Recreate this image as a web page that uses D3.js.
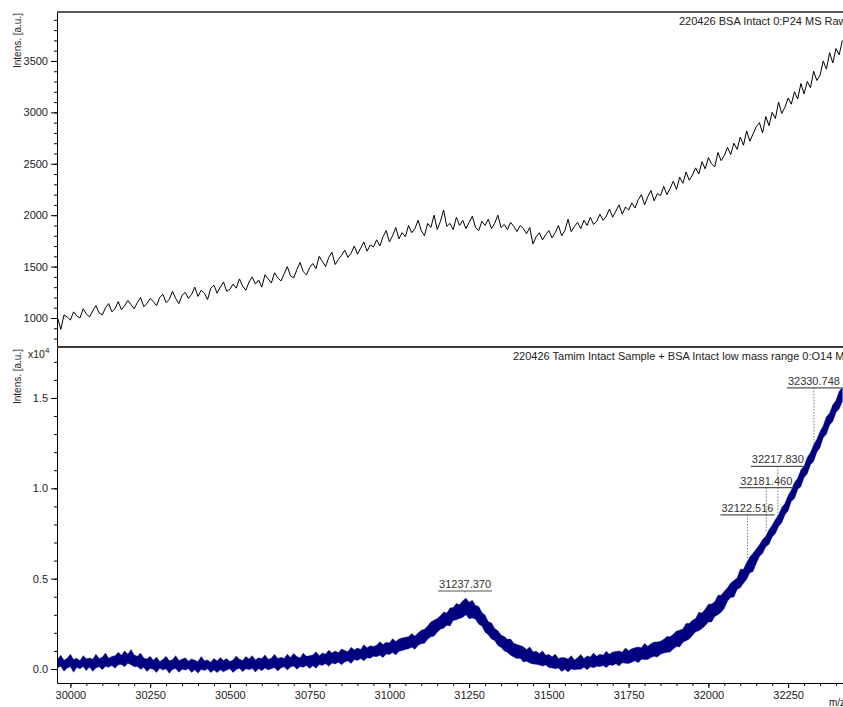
<!DOCTYPE html>
<html>
<head>
<meta charset="utf-8">
<script src="https://cdn.jsdelivr.net/npm/d3@7"></script>
<style>
  body { margin: 0; background: #fff; }
  svg { display: block; font-family: "Liberation Sans", Arial, sans-serif; }
</style>
</head>
<body>
<svg id="chart" width="843" height="707"></svg>
<script>
// ---- data ----
// both traces sampled every 10 m/z from 29960
const mzStart = 29960;
const mzStep = 10;

// top trace: 220426 BSA Intact (intensity, a.u.)
const topIntensity = [
  1000,890,1030,1010,980,1060,1020,1000,1090,1040,
  1010,1070,1120,1050,1030,1100,1140,1060,1090,1160,
  1080,1120,1170,1130,1090,1150,1200,1110,1140,1190,
  1160,1120,1200,1230,1150,1180,1260,1190,1140,1220,
  1250,1190,1230,1300,1210,1270,1240,1180,1290,1320,
  1240,1300,1350,1260,1280,1330,1290,1380,1310,1270,
  1350,1400,1330,1370,1300,1420,1380,1340,1440,1390,
  1360,1430,1500,1410,1390,1470,1540,1450,1420,1490,
  1530,1480,1600,1550,1500,1590,1640,1520,1570,1610,
  1660,1590,1630,1700,1620,1680,1740,1650,1710,1690,
  1760,1700,1790,1850,1740,1800,1880,1770,1830,1790,
  1900,1830,1870,1950,1850,1800,1920,1880,2000,1860,
  1940,2050,1890,1920,1860,1980,1900,1950,1870,1930,
  1990,1880,1850,1940,1900,1960,1870,1920,2000,1880,
  1910,1860,1930,1890,1840,1900,1870,1820,1880,1720,
  1790,1830,1760,1810,1850,1780,1830,1900,1800,1850,
  1960,1840,1890,1930,1870,1950,1900,1980,1910,1940,
  2010,1950,1990,2060,1980,2040,2100,2010,2080,2050,
  2120,2070,2150,2200,2100,2180,2240,2140,2210,2190,
  2280,2200,2260,2330,2250,2370,2310,2420,2340,2390,
  2460,2400,2520,2450,2560,2500,2470,2610,2530,2580,
  2660,2590,2700,2640,2760,2680,2820,2720,2790,2860,
  2900,2800,2960,2870,3000,2940,3100,2990,3050,3140,
  3080,3200,3130,3280,3180,3300,3240,3400,3310,3360,
  3500,3420,3580,3480,3620,3560,3700
];

// bottom trace: 220426 Tamim Intact Sample + BSA, upper and lower edge of the noise band
const bottomHigh = [
  550,760,480,600,820,520,590,460,740,570,
  610,540,820,580,650,880,600,690,740,920,
  760,1000,820,1080,780,700,880,610,560,700,
  480,660,420,530,700,450,510,740,470,540,
  620,430,560,480,410,690,460,500,380,580,
  440,630,470,580,420,500,720,540,470,690,
  560,740,500,620,570,780,540,600,810,580,
  650,580,820,640,860,690,610,880,700,740,
  780,950,740,890,820,1040,880,990,900,1110,
  1020,960,1200,1050,1160,1080,1340,1170,1280,1250,
  1320,1510,1350,1480,1440,1680,1520,1660,1720,1760,
  1780,1960,1820,1990,2150,2200,2380,2600,2700,2800,
  2950,3150,3100,3380,3400,3620,3560,3780,3920,3700,
  3800,3520,3460,3120,2980,2620,2560,2240,2120,1880,
  1800,1640,1660,1420,1360,1300,1230,1080,1220,960,
  980,860,1000,760,800,680,820,580,640,620,
  560,740,500,620,800,580,720,660,880,700,
  820,760,980,820,940,970,990,930,1160,1010,
  1120,1180,1220,1170,1410,1260,1400,1490,1500,1540,
  1640,1800,1780,1920,2100,2140,2220,2520,2520,2700,
  2800,3140,3100,3300,3580,3600,3720,4080,4080,4300,
  4500,4760,4900,5040,5520,5520,5900,6200,6400,6640,
  6880,7160,7360,7700,7960,8280,8540,8940,9160,9600,
  9900,10320,10560,11020,11240,11700,11980,12400,12720,13140,
  13460,13960,14160,14620,14860,15360,15600
];
const bottomLow = [
  80,150,-120,60,120,-180,100,10,140,-90,
  110,-130,60,130,-40,150,90,200,40,230,
  250,120,320,230,130,140,-20,90,-140,30,
  -10,-200,40,-60,10,-240,-30,30,-180,-20,
  -60,20,-190,-40,-230,-20,-90,10,-200,-60,
  -200,-40,-150,-60,10,-190,-30,40,-150,20,
  -40,40,-170,30,-100,60,-50,20,80,-110,
  60,130,-60,110,170,-20,140,90,200,30,
  180,40,250,200,300,150,330,280,380,230,
  390,450,310,520,470,580,450,620,590,700,
  680,760,640,830,800,910,780,980,1020,1080,
  1120,1200,1090,1310,1400,1420,1640,1780,1820,2040,
  2200,2260,2420,2380,2680,2720,2800,2860,3000,2780,
  2820,2760,2480,2380,2040,1900,1660,1580,1300,1200,
  1000,920,760,660,580,600,390,430,330,280,
  260,220,160,220,80,60,20,60,-140,-20,
  -160,0,-40,-20,-10,90,-40,120,70,150,
  130,190,80,240,200,290,170,340,320,310,
  380,460,350,540,520,530,640,700,660,820,
  880,920,940,1100,1240,1220,1480,1560,1660,1860,
  2060,2120,2240,2400,2600,2600,2900,3000,3140,3360,
  3760,3960,3980,4400,4500,4740,4960,5320,5400,5840,
  6220,6400,6760,6900,7300,7500,7880,8100,8540,8760,
  9280,9440,9940,10100,10600,10800,11300,11500,12000,12260,
  12800,13000,13500,13700,14200,14400,14800
];

// labelled peaks in the bottom trace
const peakMz = [31237.370, 32122.516, 32181.460, 32217.830, 32330.748];
const peakIntensity = [4150, 6150, 7600, 8000, 12400];

// tick values
const xMajorTicks = [30000, 30250, 30500, 30750, 31000, 31250, 31500, 31750, 32000, 32250];
const topMajorTicks = [1000, 1500, 2000, 2500, 3000, 3500];
const bottomMajorTicks = [0, 5000, 10000, 15000];

const topTitle = "220426 BSA Intact 0:P24 MS Raw";
const bottomTitle = "220426 Tamim Intact Sample + BSA Intact low mass range 0:O14 MS Raw";

// ---- layout ----
const left = 57, right = 843;
const topY0 = 12, splitY = 347, axisY = 683;
const labelLift = [3, 43, 44, 58, 57];   // how far each peak label sits above its peak (px)

const svg = d3.select("#chart");

const x = d3.scaleLinear().domain([29958, 32422]).range([left, right]);
const yTop = d3.scaleLinear().domain([718, 3976]).range([splitY, topY0]);
const yBot = d3.scaleLinear().domain([-775, 17820]).range([axisY, splitY]);

const mzOf = i => mzStart + i * mzStep;

// clip paths for each panel
const defs = svg.append("defs");
defs.append("clipPath").attr("id", "clipTop")
  .append("rect").attr("x", left + 1).attr("y", topY0).attr("width", right - left).attr("height", splitY - topY0);
defs.append("clipPath").attr("id", "clipBot")
  .append("rect").attr("x", left + 1).attr("y", splitY + 1).attr("width", right - left).attr("height", axisY - splitY - 1);

///// traces /////
const topLine = d3.line()
  .x((d, i) => x(mzOf(i)))
  .y(d => yTop(d));

svg.append("path")
  .datum(topIntensity)
  .attr("clip-path", "url(#clipTop)")
  .attr("d", topLine)
  .attr("fill", "none")
  .attr("stroke", "#000")
  .attr("stroke-width", 1);

// dense raw trace drawn as its noise band
const band = d3.area()
  .x((d, i) => x(mzOf(i)))
  .y0((d, i) => yBot(bottomLow[i]))
  .y1(d => yBot(d));

svg.append("path")
  .datum(bottomHigh)
  .attr("clip-path", "url(#clipBot)")
  .attr("d", band)
  .attr("fill", "#000080")
  .attr("stroke", "#000080")
  .attr("stroke-width", 0.4);

///// axes /////
const fmtInt = d3.format("d");

// top panel y axis
svg.append("g")
  .attr("transform", `translate(${left},0)`)
  .call(d3.axisLeft(yTop).tickValues(d3.range(800, 4000, 100)).tickSize(3).tickFormat(""))
  .call(g => g.select(".domain").remove());
svg.append("g")
  .attr("class", "axis")
  .attr("transform", `translate(${left},0)`)
  .call(d3.axisLeft(yTop).tickValues(topMajorTicks).tickSize(6).tickSizeOuter(0).tickFormat(fmtInt));

// bottom panel y axis
svg.append("g")
  .attr("transform", `translate(${left},0)`)
  .call(d3.axisLeft(yBot).tickValues(d3.range(0, 18000, 1000)).tickSize(3).tickFormat(""))
  .call(g => g.select(".domain").remove());
svg.append("g")
  .attr("class", "axis")
  .attr("transform", `translate(${left},0)`)
  .call(d3.axisLeft(yBot).tickValues(bottomMajorTicks).tickSize(6).tickSizeOuter(0)
    .tickFormat(v => (v / 1e4).toFixed(1)));

// x axis
svg.append("g")
  .attr("transform", `translate(0,${axisY})`)
  .call(d3.axisBottom(x).tickValues(d3.range(30000, 32450, 50)).tickSize(3).tickFormat(""))
  .call(g => g.select(".domain").remove());
svg.append("g")
  .attr("class", "axis")
  .attr("transform", `translate(0,${axisY})`)
  .call(d3.axisBottom(x).tickValues(xMajorTicks).tickSize(5).tickSizeOuter(0).tickFormat(fmtInt));

svg.selectAll(".axis text")
  .style("font-size", "11px")
  .style("font-family", "'Liberation Sans', Arial, sans-serif")
  .attr("fill", "#222");
svg.selectAll(".tick line").attr("stroke", "#000");

// panel borders
svg.append("line")
  .attr("x1", left).attr("x2", right).attr("y1", topY0).attr("y2", topY0)
  .attr("stroke", "#5a5a5a").attr("stroke-width", 2);
svg.append("line")
  .attr("x1", left).attr("x2", right).attr("y1", splitY).attr("y2", splitY)
  .attr("stroke", "#3a3a3a").attr("stroke-width", 2);

///// texts /////
svg.append("text")
  .attr("transform", `translate(21,${topY0 + 1}) rotate(-90)`)
  .attr("text-anchor", "end")
  .style("font-size", "10px")
  .attr("fill", "#222")
  .text("Intens. [a.u.]");
svg.append("text")
  .attr("transform", `translate(21,${splitY + 2}) rotate(-90)`)
  .attr("text-anchor", "end")
  .style("font-size", "10px")
  .attr("fill", "#222")
  .text("Intens. [a.u.]");

// x10^4 exponent
const expo = svg.append("text")
  .attr("x", 28).attr("y", 358)
  .style("font-size", "10.5px")
  .attr("fill", "#222");
expo.append("tspan").text("x10");
expo.append("tspan").attr("dy", -5).style("font-size", "8px").text("4");

svg.append("text")
  .attr("x", 679).attr("y", 25)
  .style("font-size", "11px")
  .attr("fill", "#222")
  .text(topTitle);
svg.append("text")
  .attr("x", 513).attr("y", 360)
  .style("font-size", "11px")
  .attr("fill", "#222")
  .text(bottomTitle);

svg.append("text")
  .attr("x", 829).attr("y", 706)
  .style("font-size", "10px")
  .attr("fill", "#222")
  .text("m/z");

///// peak labels /////
const peaks = peakMz.map((mz, i) => ({ mz: mz, inten: peakIntensity[i], lift: labelLift[i] }));
const lab = svg.selectAll(".peak").data(peaks).enter().append("g").attr("class", "peak");

lab.append("line")
  .attr("x1", d => x(d.mz)).attr("x2", d => x(d.mz))
  .attr("y1", d => yBot(d.inten) - d.lift)
  .attr("y2", d => yBot(d.inten))
  .attr("stroke", "#555")
  .attr("stroke-width", 0.8)
  .attr("stroke-dasharray", "1.5,1.5");

lab.append("text")
  .attr("x", d => x(d.mz))
  .attr("y", d => yBot(d.inten) - d.lift - 3)
  .attr("text-anchor", "middle")
  .style("font-size", "11px")
  .attr("fill", "#333")
  .text(d => d.mz.toFixed(3));

lab.each(function(d) {
  const g = d3.select(this);
  const w = g.select("text").node().getComputedTextLength();
  g.append("line")
    .attr("x1", x(d.mz) - w / 2 - 1).attr("x2", x(d.mz) + w / 2 + 1)
    .attr("y1", yBot(d.inten) - d.lift).attr("y2", yBot(d.inten) - d.lift)
    .attr("stroke", "#555")
    .attr("stroke-width", 1.2);
});
</script>
</body>
</html>
